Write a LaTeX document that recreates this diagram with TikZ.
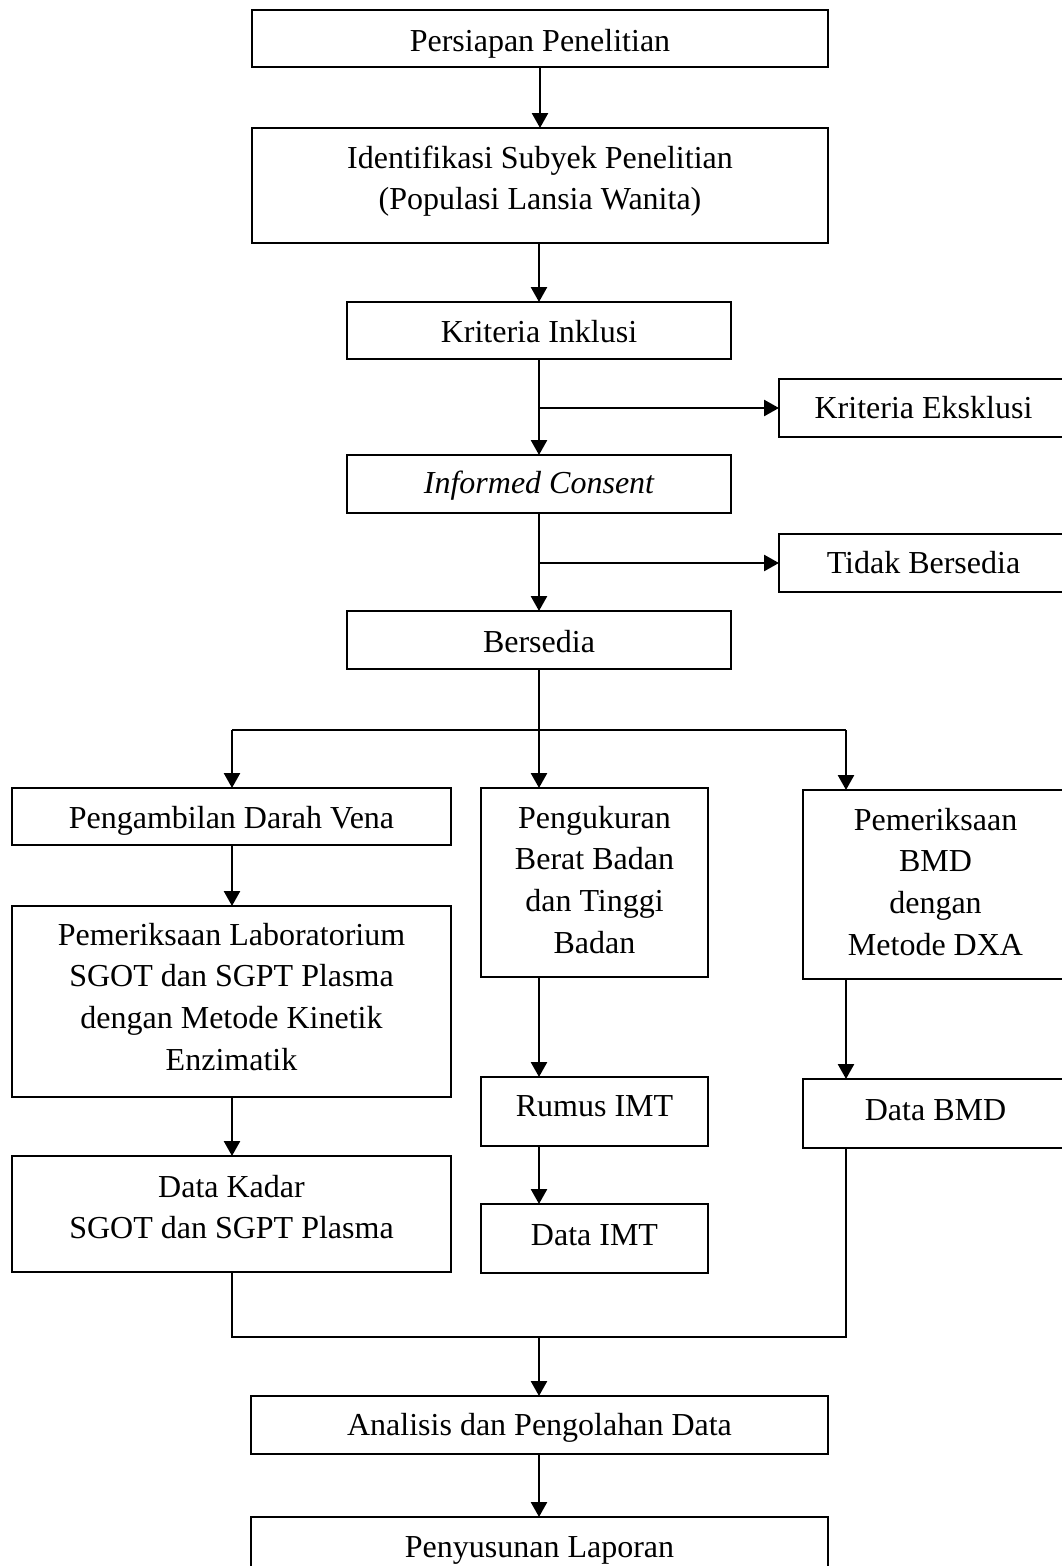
\documentclass[tikz,border=0pt]{standalone}
\usepackage{fontspec}
\setmainfont{Liberation Serif}
\usetikzlibrary{arrows.meta}
\begin{document}
\begin{tikzpicture}[x=1pt,y=-1pt,
  box/.style={draw, line width=1.9pt, rectangle, inner sep=0pt, outer sep=0pt, align=center, font=\fontsize{32}{41.7}\selectfont},
  sl/.style={text height=#1, text depth=0pt},
  ml/.style 2 args={text width=#1, align=flush center, text height=22pt, text depth=#2},
  arr/.style={line width=2.6pt, -{Triangle[length=15pt,width=16pt]}},
  ln/.style={line width=2.2pt}]
\useasboundingbox (0,0) rectangle (1061,1566);
\fill[white] (0,0) rectangle (1061,1566);

\node[box, sl=26pt, minimum width=576pt, minimum height=57pt] (persiapan) at (540,38.5) {Persiapan Penelitian};
\node[box, ml={560pt}{57pt}, minimum width=576pt, minimum height=115pt] (ident) at (540,185.5) {Identifikasi Subyek Penelitian\\(Populasi Lansia Wanita)};
\node[box, sl=23pt, minimum width=384pt, minimum height=57pt] (inklusi) at (539,330.5) {Kriteria Inklusi};
\node[box, sl=20pt, minimum width=289pt, minimum height=58pt] (eksklusi) at (923.5,408) {Kriteria Eksklusi};
\node[box, sl=18pt, minimum width=384pt, minimum height=58pt] (informed) at (539,484) {\itshape Informed Consent};
\node[box, sl=20pt, minimum width=289pt, minimum height=58pt] (tidak) at (923.5,563) {Tidak Bersedia};
\node[box, sl=24pt, minimum width=384pt, minimum height=58pt] (bersedia) at (539,640) {Bersedia};
\node[box, sl=23pt, minimum width=439pt, minimum height=57pt] (ambil) at (231.5,816.5) {Pengambilan Darah Vena};
\node[box, ml={220pt}{131pt}, minimum width=227pt, minimum height=189pt] (ukur) at (594.5,882.5) {Pengukuran\\Berat Badan\\dan Tinggi\\Badan};
\node[box, ml={258pt}{131pt}, minimum width=265pt, minimum height=189pt] (bmd) at (935.5,884.5) {Pemeriksaan\\BMD\\dengan\\Metode DXA};
\node[box, ml={430pt}{135pt}, minimum width=439pt, minimum height=191pt] (lab) at (231.5,1001.5) {Pemeriksaan Laboratorium\\SGOT dan SGPT Plasma\\dengan Metode Kinetik\\Enzimatik};
\node[box, sl=10pt, minimum width=227pt, minimum height=69pt] (rumus) at (594.5,1111.5) {Rumus IMT};
\node[box, sl=13pt, minimum width=265pt, minimum height=69pt] (databmd) at (935.5,1113.5) {Data BMD};
\node[box, ml={430pt}{56pt}, minimum width=439pt, minimum height=116pt] (kadar) at (231.5,1214) {Data Kadar\\SGOT dan SGPT Plasma};
\node[box, sl=13pt, minimum width=227pt, minimum height=69pt] (imt) at (594.5,1238.5) {Data IMT};
\node[box, sl=20pt, minimum width=577pt, minimum height=58pt] (analisis) at (539.5,1425) {Analisis dan Pengolahan Data};
\node[box, sl=22pt, minimum width=577pt, minimum height=58pt] (susun) at (539.5,1546) {Penyusunan Laporan};

\coordinate (bl) at (232,730);
\coordinate (bm) at (539,730);
\coordinate (br) at (846,730);
\coordinate (ml) at (232,1337);
\coordinate (mm) at (539,1337);
\coordinate (mr) at (846,1337);

\draw[arr] (persiapan.south) -- (ident.north);
\draw[arr] (inklusi.north |- ident.south) -- (inklusi.north);
\draw[arr] (inklusi.south) -- (informed.north);
\draw[arr] (inklusi.south |- eksklusi.west) -- (eksklusi.west);
\draw[arr] (informed.south) -- (bersedia.north);
\draw[arr] (informed.south |- tidak.west) -- (tidak.west);
\draw[arr] (bersedia.south) -- (bm |- ukur.north);
\draw[ln] (bl) -- (br);
\draw[arr] (bl) -- (bl |- ambil.north);
\draw[arr] (br) -- (br |- bmd.north);
\draw[arr] (bl |- ambil.south) -- (bl |- lab.north);
\draw[arr] (bl |- lab.south) -- (bl |- kadar.north);
\draw[arr] (bm |- ukur.south) -- (bm |- rumus.north);
\draw[arr] (bm |- rumus.south) -- (bm |- imt.north);
\draw[arr] (br |- bmd.south) -- (br |- databmd.north);
\draw[ln] (ml |- kadar.south) -- (ml) -- (mr) -- (mr |- databmd.south);
\draw[arr] (mm) -- (mm |- analisis.north);
\draw[arr] (mm |- analisis.south) -- (mm |- susun.north);
\end{tikzpicture}
\end{document}
